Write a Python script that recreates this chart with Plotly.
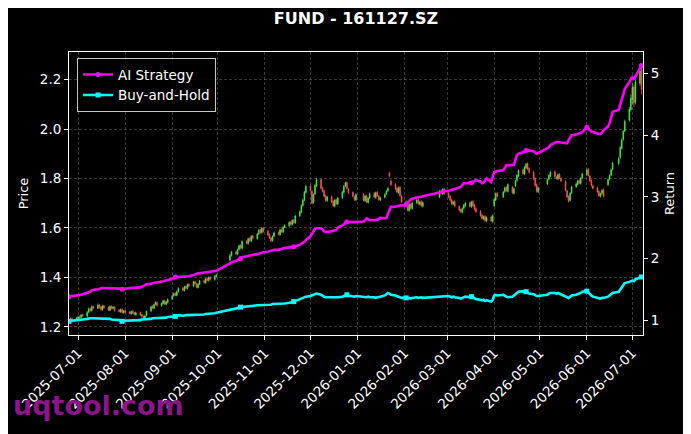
import pandas as pd
import plotly.graph_objects as go

# handelsdagar 2025-06-25 .. 2026-07-07 (helgdagar i Kina borttagna)
first_day = "2025-06-25"
last_day = "2026-07-07"
holidays = [
    "2025-10-01", "2025-10-02", "2025-10-03", "2025-10-06", "2025-10-07", "2025-10-08",
    "2026-01-01", "2026-01-02",
    "2026-02-16", "2026-02-17", "2026-02-18", "2026-02-19", "2026-02-20", "2026-02-23",
    "2026-04-06", "2026-05-01", "2026-05-04", "2026-05-05", "2026-06-19",
]

open_px = [
    1.224, 1.229, 1.233, 1.227,
    1.233, 1.241, 1.237, 1.249, 1.243, 1.259, 1.273, 1.265, 1.282, 1.275, 1.289, 1.280,
    1.269, 1.285, 1.278, 1.267, 1.283, 1.274, 1.280, 1.267, 1.261, 1.271, 1.257,
    1.265, 1.260, 1.253, 1.263, 1.257, 1.249, 1.258, 1.249, 1.243, 1.235, 1.246, 1.264,
    1.283, 1.275, 1.291, 1.299, 1.285, 1.294, 1.306, 1.291, 1.299,
    1.312, 1.326, 1.336, 1.327, 1.343, 1.356, 1.347, 1.363, 1.355, 1.372, 1.364, 1.383,
    1.375, 1.359, 1.373, 1.387, 1.378, 1.395, 1.387, 1.401, 1.391, 1.404,
    1.470, 1.489, 1.503, 1.494, 1.513, 1.529, 1.518, 1.546, 1.537, 1.557, 1.547, 1.567,
    1.557, 1.576, 1.591, 1.581, 1.599,
    1.587, 1.573, 1.559, 1.549, 1.566, 1.581, 1.573, 1.593, 1.584, 1.604, 1.609, 1.623,
    1.614, 1.631, 1.621, 1.649, 1.664, 1.691, 1.713, 1.744,
    1.770, 1.748, 1.702, 1.738, 1.770, 1.796, 1.762, 1.750, 1.730, 1.710, 1.727, 1.707,
    1.688, 1.714, 1.697, 1.722, 1.744, 1.770, 1.784, 1.758, 1.744, 1.726, 1.713,
    1.736, 1.710, 1.730, 1.703, 1.722, 1.740, 1.723, 1.744, 1.728, 1.713, 1.724, 1.737,
    1.750, 1.822, 1.790, 1.776, 1.760, 1.743, 1.764, 1.728,
    1.707, 1.690, 1.670, 1.697, 1.678, 1.702, 1.714, 1.696, 1.707, 1.688, 1.725, 1.750,
    1.738, 1.757,
    1.740, 1.727, 1.713, 1.696, 1.707, 1.686, 1.674, 1.663, 1.680, 1.690, 1.702, 1.686,
    1.707, 1.692, 1.678, 1.667, 1.652, 1.636, 1.647, 1.628, 1.644, 1.626,
    1.690, 1.713, 1.740, 1.726, 1.747, 1.764, 1.748, 1.765, 1.740, 1.770, 1.792, 1.810,
    1.835, 1.818, 1.843, 1.860, 1.840, 1.826, 1.800, 1.775, 1.746,
    1.778, 1.797, 1.810, 1.827, 1.806, 1.798, 1.817, 1.800, 1.788, 1.750, 1.727, 1.712,
    1.742, 1.767, 1.776, 1.792, 1.780, 1.802,
    1.815, 1.837, 1.810, 1.792, 1.770, 1.762, 1.747, 1.728, 1.740, 1.754, 1.775, 1.797,
    1.814, 1.837, 1.860, 1.885, 1.922, 1.958, 1.992, 2.035, 2.078,
    2.120, 2.170, 2.110, 2.185, 2.240,
]
high_px = [
    1.232, 1.236, 1.237, 1.240,
    1.245, 1.246, 1.253, 1.252, 1.264, 1.278, 1.277, 1.287, 1.285, 1.294, 1.292, 1.285,
    1.290, 1.288, 1.283, 1.287, 1.286, 1.284, 1.283, 1.272, 1.274, 1.275, 1.268,
    1.269, 1.263, 1.266, 1.267, 1.260, 1.261, 1.262, 1.253, 1.246, 1.249, 1.266, 1.286,
    1.287, 1.294, 1.303, 1.302, 1.299, 1.309, 1.310, 1.304, 1.315,
    1.330, 1.339, 1.340, 1.347, 1.360, 1.360, 1.366, 1.367, 1.375, 1.376, 1.386, 1.387,
    1.378, 1.376, 1.390, 1.391, 1.398, 1.399, 1.404, 1.405, 1.409, 1.415,
    1.494, 1.507, 1.508, 1.517, 1.533, 1.534, 1.550, 1.551, 1.561, 1.562, 1.571, 1.572,
    1.580, 1.595, 1.596, 1.603, 1.604,
    1.592, 1.578, 1.564, 1.570, 1.585, 1.586, 1.597, 1.598, 1.608, 1.615, 1.627, 1.628,
    1.635, 1.636, 1.653, 1.670, 1.695, 1.718, 1.750, 1.775,
    1.776, 1.753, 1.740, 1.778, 1.802, 1.800, 1.767, 1.754, 1.735, 1.730, 1.731, 1.712,
    1.717, 1.719, 1.725, 1.750, 1.773, 1.787, 1.788, 1.763, 1.748, 1.730, 1.740,
    1.741, 1.733, 1.735, 1.725, 1.743, 1.745, 1.747, 1.749, 1.733, 1.727, 1.740, 1.753,
    1.765, 1.828, 1.795, 1.781, 1.765, 1.767, 1.769, 1.733,
    1.712, 1.695, 1.700, 1.702, 1.705, 1.717, 1.719, 1.710, 1.712, 1.707, 1.753, 1.755,
    1.760, 1.762,
    1.745, 1.732, 1.718, 1.710, 1.712, 1.691, 1.679, 1.683, 1.697, 1.705, 1.707, 1.710,
    1.712, 1.697, 1.683, 1.672, 1.657, 1.650, 1.652, 1.647, 1.649, 1.655,
    1.720, 1.743, 1.745, 1.750, 1.767, 1.769, 1.780, 1.770, 1.763, 1.795, 1.817, 1.837,
    1.840, 1.850, 1.863, 1.865, 1.845, 1.831, 1.805, 1.780, 1.767,
    1.800, 1.817, 1.830, 1.832, 1.811, 1.820, 1.822, 1.805, 1.793, 1.755, 1.732, 1.745,
    1.770, 1.783, 1.795, 1.797, 1.805, 1.823,
    1.840, 1.842, 1.815, 1.797, 1.775, 1.767, 1.752, 1.743, 1.757, 1.759, 1.800, 1.817,
    1.840, 1.867, 1.886, 1.932, 1.962, 1.997, 2.038, 2.090, 2.140,
    2.185, 2.178, 2.200, 2.250, 2.258,
]
low_px = [
    1.219, 1.225, 1.222, 1.224,
    1.229, 1.231, 1.234, 1.240, 1.239, 1.255, 1.261, 1.262, 1.271, 1.272, 1.274, 1.266,
    1.265, 1.273, 1.263, 1.264, 1.270, 1.271, 1.261, 1.258, 1.257, 1.254, 1.253,
    1.255, 1.250, 1.249, 1.252, 1.246, 1.245, 1.244, 1.238, 1.231, 1.231, 1.242, 1.260,
    1.272, 1.271, 1.287, 1.282, 1.281, 1.290, 1.288, 1.287, 1.295,
    1.308, 1.322, 1.324, 1.323, 1.339, 1.344, 1.343, 1.352, 1.351, 1.361, 1.360, 1.370,
    1.356, 1.355, 1.369, 1.375, 1.374, 1.384, 1.383, 1.388, 1.387, 1.400,
    1.465, 1.484, 1.490, 1.489, 1.508, 1.514, 1.513, 1.533, 1.532, 1.543, 1.542, 1.553,
    1.552, 1.571, 1.577, 1.576, 1.581,
    1.567, 1.555, 1.542, 1.544, 1.561, 1.569, 1.568, 1.580, 1.579, 1.599, 1.604, 1.610,
    1.609, 1.617, 1.616, 1.644, 1.659, 1.686, 1.708, 1.739,
    1.746, 1.695, 1.697, 1.733, 1.765, 1.755, 1.743, 1.723, 1.707, 1.705, 1.700, 1.685,
    1.683, 1.693, 1.692, 1.717, 1.739, 1.765, 1.755, 1.737, 1.723, 1.709, 1.708,
    1.707, 1.705, 1.700, 1.698, 1.717, 1.720, 1.718, 1.725, 1.710, 1.708, 1.719, 1.732,
    1.745, 1.805, 1.770, 1.753, 1.740, 1.738, 1.725, 1.700,
    1.683, 1.667, 1.665, 1.675, 1.673, 1.697, 1.693, 1.691, 1.685, 1.683, 1.720, 1.735,
    1.733, 1.733,
    1.720, 1.707, 1.693, 1.691, 1.683, 1.667, 1.660, 1.658, 1.675, 1.685, 1.683, 1.681,
    1.685, 1.671, 1.660, 1.645, 1.633, 1.631, 1.625, 1.623, 1.623, 1.621,
    1.685, 1.708, 1.723, 1.721, 1.742, 1.745, 1.743, 1.737, 1.735, 1.765, 1.787, 1.805,
    1.815, 1.813, 1.838, 1.833, 1.820, 1.793, 1.767, 1.743, 1.741,
    1.773, 1.792, 1.805, 1.803, 1.795, 1.793, 1.797, 1.785, 1.747, 1.720, 1.703, 1.707,
    1.737, 1.762, 1.771, 1.777, 1.775, 1.797,
    1.810, 1.807, 1.785, 1.767, 1.755, 1.740, 1.725, 1.723, 1.735, 1.723, 1.770, 1.792,
    1.809, 1.832, 1.855, 1.880, 1.917, 1.953, 1.987, 2.030, 2.070,
    2.100, 2.090, 2.100, 2.175, 2.140,
]
close_px = [
    1.228, 1.232, 1.226, 1.235,
    1.240, 1.236, 1.248, 1.244, 1.258, 1.272, 1.266, 1.281, 1.276, 1.288, 1.279, 1.270,
    1.284, 1.277, 1.268, 1.282, 1.275, 1.279, 1.266, 1.262, 1.270, 1.258, 1.264,
    1.259, 1.254, 1.262, 1.256, 1.250, 1.257, 1.248, 1.242, 1.236, 1.244, 1.262, 1.281,
    1.276, 1.290, 1.298, 1.286, 1.295, 1.305, 1.292, 1.300, 1.310,
    1.325, 1.334, 1.328, 1.342, 1.355, 1.348, 1.362, 1.356, 1.371, 1.365, 1.382, 1.374,
    1.360, 1.372, 1.386, 1.379, 1.394, 1.388, 1.400, 1.392, 1.405, 1.410,
    1.488, 1.502, 1.495, 1.512, 1.528, 1.519, 1.545, 1.538, 1.556, 1.548, 1.566, 1.558,
    1.575, 1.590, 1.582, 1.598, 1.586,
    1.572, 1.560, 1.548, 1.565, 1.580, 1.574, 1.592, 1.585, 1.603, 1.610, 1.622, 1.615,
    1.630, 1.622, 1.648, 1.665, 1.690, 1.712, 1.745, 1.768,
    1.752, 1.700, 1.735, 1.772, 1.795, 1.760, 1.748, 1.728, 1.712, 1.725, 1.705, 1.690,
    1.712, 1.698, 1.720, 1.745, 1.768, 1.782, 1.760, 1.742, 1.728, 1.715, 1.735,
    1.712, 1.728, 1.705, 1.720, 1.738, 1.725, 1.742, 1.730, 1.715, 1.722, 1.735, 1.748,
    1.760, 1.810, 1.775, 1.758, 1.745, 1.762, 1.730, 1.705,
    1.688, 1.672, 1.695, 1.680, 1.700, 1.712, 1.698, 1.705, 1.690, 1.702, 1.748, 1.740,
    1.755, 1.738,
    1.725, 1.712, 1.698, 1.705, 1.688, 1.672, 1.665, 1.678, 1.692, 1.700, 1.688, 1.705,
    1.690, 1.676, 1.665, 1.650, 1.638, 1.645, 1.630, 1.642, 1.628, 1.650,
    1.715, 1.738, 1.728, 1.745, 1.762, 1.750, 1.775, 1.742, 1.758, 1.790, 1.812, 1.832,
    1.820, 1.845, 1.858, 1.838, 1.825, 1.798, 1.772, 1.748, 1.762,
    1.795, 1.812, 1.825, 1.808, 1.800, 1.815, 1.802, 1.790, 1.752, 1.725, 1.708, 1.740,
    1.765, 1.778, 1.790, 1.782, 1.800, 1.818,
    1.835, 1.812, 1.790, 1.772, 1.760, 1.745, 1.730, 1.738, 1.752, 1.728, 1.795, 1.812,
    1.835, 1.862, 1.880, 1.925, 1.955, 1.990, 2.030, 2.080, 2.125,
    2.168, 2.105, 2.190, 2.235, 2.160,
]

ai_strategy = [
    1.38, 1.38, 1.39, 1.40,
    1.40, 1.41, 1.41, 1.42, 1.44, 1.45, 1.46, 1.48, 1.49, 1.50, 1.51, 1.51,
    1.52, 1.52, 1.52, 1.52, 1.52, 1.52, 1.52, 1.52, 1.51, 1.50, 1.51,
    1.51, 1.52, 1.52, 1.52, 1.52, 1.52, 1.53, 1.54, 1.55, 1.57, 1.58, 1.59,
    1.60, 1.60, 1.61, 1.61, 1.62, 1.63, 1.64, 1.64, 1.65,
    1.67, 1.68, 1.70, 1.70, 1.70, 1.70, 1.70, 1.71, 1.71, 1.71, 1.73, 1.74,
    1.76, 1.76, 1.76, 1.77, 1.78, 1.78, 1.78, 1.79, 1.80, 1.80,
    1.92, 1.94, 1.96, 1.97, 1.99, 2.00, 2.02, 2.03, 2.04, 2.05, 2.06, 2.06,
    2.07, 2.08, 2.08, 2.09, 2.10,
    2.11, 2.12, 2.13, 2.13, 2.14, 2.14, 2.15, 2.15, 2.16, 2.17, 2.18, 2.18,
    2.19, 2.19, 2.20, 2.22, 2.24, 2.25, 2.27, 2.30,
    2.36, 2.40, 2.44, 2.48, 2.49, 2.49, 2.47, 2.44, 2.43, 2.43, 2.44, 2.45,
    2.46, 2.46, 2.50, 2.53, 2.55, 2.58, 2.59, 2.59, 2.59, 2.59, 2.59,
    2.60, 2.62, 2.65, 2.64, 2.62, 2.62, 2.62, 2.63, 2.64, 2.66, 2.65, 2.66,
    2.72, 2.80, 2.84, 2.84, 2.85, 2.85, 2.86, 2.86,
    2.87, 2.90, 2.94, 2.96, 2.97, 2.99, 3.00, 3.00, 3.00, 3.01, 3.07, 3.08,
    3.08, 3.09,
    3.10, 3.10, 3.11, 3.12, 3.13, 3.15, 3.16, 3.19, 3.22, 3.22, 3.22, 3.23,
    3.24, 3.26, 3.27, 3.25, 3.22, 3.23, 3.26, 3.30, 3.24, 3.34,
    3.40, 3.41, 3.42, 3.43, 3.48, 3.51, 3.51, 3.51, 3.52, 3.60, 3.68, 3.70,
    3.72, 3.73, 3.75, 3.76, 3.75, 3.74, 3.72, 3.70, 3.71,
    3.78, 3.80, 3.84, 3.88, 3.89, 3.89, 3.88, 3.88, 3.87, 3.87, 3.92, 3.97,
    4.00, 4.01, 4.02, 4.02, 4.03, 4.05,
    4.13, 4.10, 4.08, 4.06, 4.05, 4.03, 4.02, 4.02, 4.04, 4.08, 4.14, 4.20,
    4.30, 4.38, 4.41, 4.48, 4.58, 4.66, 4.75, 4.86, 4.92,
    4.94, 4.90, 4.95, 5.10, 5.13,
]
buy_hold = [
    0.98, 0.99, 0.99, 1.00,
    1.00, 1.00, 1.01, 1.01, 1.02, 1.03, 1.03, 1.03, 1.03, 1.03, 1.03, 1.03,
    1.03, 1.03, 1.02, 1.02, 1.01, 1.01, 1.01, 1.00, 0.99, 0.98, 0.99,
    0.99, 1.00, 1.00, 1.00, 1.00, 1.00, 1.00, 1.01, 1.01, 1.02, 1.02, 1.02,
    1.03, 1.03, 1.03, 1.03, 1.03, 1.04, 1.04, 1.04, 1.05,
    1.05, 1.06, 1.06, 1.07, 1.08, 1.07, 1.08, 1.08, 1.08, 1.08, 1.08, 1.09,
    1.08, 1.08, 1.09, 1.09, 1.10, 1.10, 1.11, 1.11, 1.11, 1.12,
    1.17, 1.18, 1.19, 1.19, 1.20, 1.21, 1.21, 1.22, 1.22, 1.23, 1.23, 1.23,
    1.24, 1.24, 1.24, 1.25, 1.25,
    1.25, 1.25, 1.25, 1.26, 1.26, 1.26, 1.26, 1.26, 1.27, 1.27, 1.28, 1.28,
    1.29, 1.30, 1.31, 1.33, 1.34, 1.35, 1.37, 1.38,
    1.39, 1.40, 1.41, 1.42, 1.43, 1.41, 1.39, 1.38, 1.37, 1.37, 1.36, 1.36,
    1.37, 1.36, 1.37, 1.38, 1.39, 1.40, 1.41, 1.40, 1.39, 1.38, 1.39,
    1.38, 1.37, 1.37, 1.38, 1.37, 1.37, 1.36, 1.37, 1.37, 1.38, 1.40, 1.42,
    1.44, 1.43, 1.41, 1.40, 1.39, 1.38, 1.37, 1.36,
    1.36, 1.35, 1.36, 1.35, 1.36, 1.37, 1.36, 1.37, 1.37, 1.36, 1.38, 1.38,
    1.39, 1.38,
    1.39, 1.38, 1.37, 1.38, 1.37, 1.36, 1.35, 1.36, 1.37, 1.38, 1.37, 1.38,
    1.37, 1.36, 1.34, 1.33, 1.32, 1.33, 1.31, 1.32, 1.30, 1.33,
    1.40, 1.41, 1.40, 1.41, 1.39, 1.38, 1.37, 1.38, 1.40, 1.42, 1.44, 1.46,
    1.47, 1.45, 1.46, 1.44, 1.43, 1.42, 1.40, 1.39, 1.39,
    1.41, 1.43, 1.44, 1.44, 1.43, 1.44, 1.43, 1.42, 1.39, 1.37, 1.36, 1.38,
    1.40, 1.41, 1.42, 1.42, 1.44, 1.46,
    1.47, 1.45, 1.42, 1.40, 1.38, 1.36, 1.35, 1.35, 1.36, 1.36, 1.38, 1.40,
    1.42, 1.44, 1.46, 1.50, 1.54, 1.57, 1.60, 1.62, 1.63,
    1.64, 1.63, 1.66, 1.69, 1.70,
]

month_ticks = [
    "2025-07-01", "2025-08-01", "2025-09-01", "2025-10-01", "2025-11-01", "2025-12-01",
    "2026-01-01", "2026-02-01", "2026-03-01", "2026-04-01", "2026-05-01", "2026-06-01",
    "2026-07-01",
]
price_ticks = [1.2, 1.4, 1.6, 1.8, 2.0, 2.2]
return_ticks = [1, 2, 3, 4, 5]

GREEN = "#4cf04c"
RED = "#ff5a5a"
MAGENTA = "#ff00ff"
CYAN = "#00ffff"
GRID = "rgba(140,140,140,0.4)"
FONT = "DejaVu Sans"

# sidan har 8 px marginal runt diagrammet, så figuren görs 8 px mindre
PAGE_PAD = 8
W, H = 691 - PAGE_PAD, 434 - PAGE_PAD


def trading_days():
    days = pd.bdate_range(first_day, last_day)
    days = days[~days.isin(pd.to_datetime(holidays))]
    return days


def build_figure():
    dates = trading_days()
    n = min(len(dates), len(close_px), len(ai_strategy), len(buy_hold))
    dates = dates[:n]
    every = list(range(0, n, 25))  # markör var 25:e punkt

    fig = go.Figure()
    fig.add_trace(go.Candlestick(
        x=dates, open=open_px[:n], high=high_px[:n], low=low_px[:n], close=close_px[:n],
        increasing=dict(line=dict(color=GREEN, width=0.7), fillcolor=GREEN),
        decreasing=dict(line=dict(color=RED, width=0.7), fillcolor=RED),
        whiskerwidth=0, showlegend=False, hoverinfo="skip",
    ))

    for name, values, color, symbol in [
        ("AI Strategy", ai_strategy, MAGENTA, "circle"),
        ("Buy-and-Hold", buy_hold, CYAN, "square"),
    ]:
        fig.add_trace(go.Scatter(
            x=dates, y=values[:n], mode="lines", yaxis="y2",
            line=dict(color=color, width=2.6), showlegend=False,
        ))
        fig.add_trace(go.Scatter(
            x=[dates[i] for i in every], y=[values[i] for i in every],
            mode="markers", yaxis="y2", showlegend=False,
            marker=dict(color=color, size=5, symbol=symbol),
        ))
        # bara för legenden
        fig.add_trace(go.Scatter(
            x=[None], y=[None], mode="lines+markers", name=name, yaxis="y2",
            line=dict(color=color, width=2.6),
            marker=dict(color=color, size=5, symbol=symbol),
        ))

    axis_common = dict(
        showline=True, linecolor="white", linewidth=1,
        ticks="outside", ticklen=4, tickcolor="white",
        tickfont=dict(size=13.5, color="white", family=FONT),
        zeroline=False, automargin=False,
    )

    fig.update_layout(
        width=W, height=H,
        margin=dict(l=69 - PAGE_PAD, r=48, t=52 - PAGE_PAD, b=99, autoexpand=False),
        paper_bgcolor="black", plot_bgcolor="black",
        font=dict(family=FONT, color="white", size=13),
        title=dict(text="<b>FUND - 161127.SZ</b>", x=(356 - PAGE_PAD) / W, xanchor="center",
                   y=1 - (18 - PAGE_PAD) / H, yanchor="middle",
                   font=dict(size=16, color="white", family=FONT)),
        xaxis=dict(
            type="date", range=["2025-06-25", "2026-07-08"],
            tickvals=month_ticks, ticktext=month_ticks, tickangle=-45,
            showgrid=True, gridcolor=GRID, griddash="3px,2px", gridwidth=0.7,
            mirror=True, rangeslider=dict(visible=False), **axis_common,
        ),
        yaxis=dict(
            range=[1.1669, 2.3115], tickvals=price_ticks,
            ticktext=[f"{v:.1f}" for v in price_ticks],
            title=dict(text="Price", standoff=8, font=dict(size=13, family=FONT)),
            showgrid=True, gridcolor=GRID, griddash="3px,2px", gridwidth=0.7,
            mirror=True, **axis_common,
        ),
        yaxis2=dict(
            overlaying="y", side="right", range=[0.758, 5.35],
            tickvals=return_ticks, ticktext=[str(v) for v in return_ticks],
            title=dict(text="Return", standoff=6, font=dict(size=13, family=FONT)),
            showgrid=False, **axis_common,
        ),
        legend=dict(
            x=0.014, y=0.978, xanchor="left", yanchor="top",
            bgcolor="rgba(0,0,0,0.85)", bordercolor="#c8c8c8", borderwidth=1,
            font=dict(size=13.5, color="white", family=FONT),
        ),
        annotations=[dict(
            text="<b>uqtool.com</b>", xref="paper", yref="paper",
            x=(98 - 69) / 574, y=(335 - 406) / 283.3, xanchor="center", yanchor="middle",
            showarrow=False, font=dict(size=27, color="#8a168a", family=FONT),
        )],
    )
    return fig


def main():
    fig = build_figure()
    fig.write_html("out.html")


if __name__ == "__main__":
    main()
